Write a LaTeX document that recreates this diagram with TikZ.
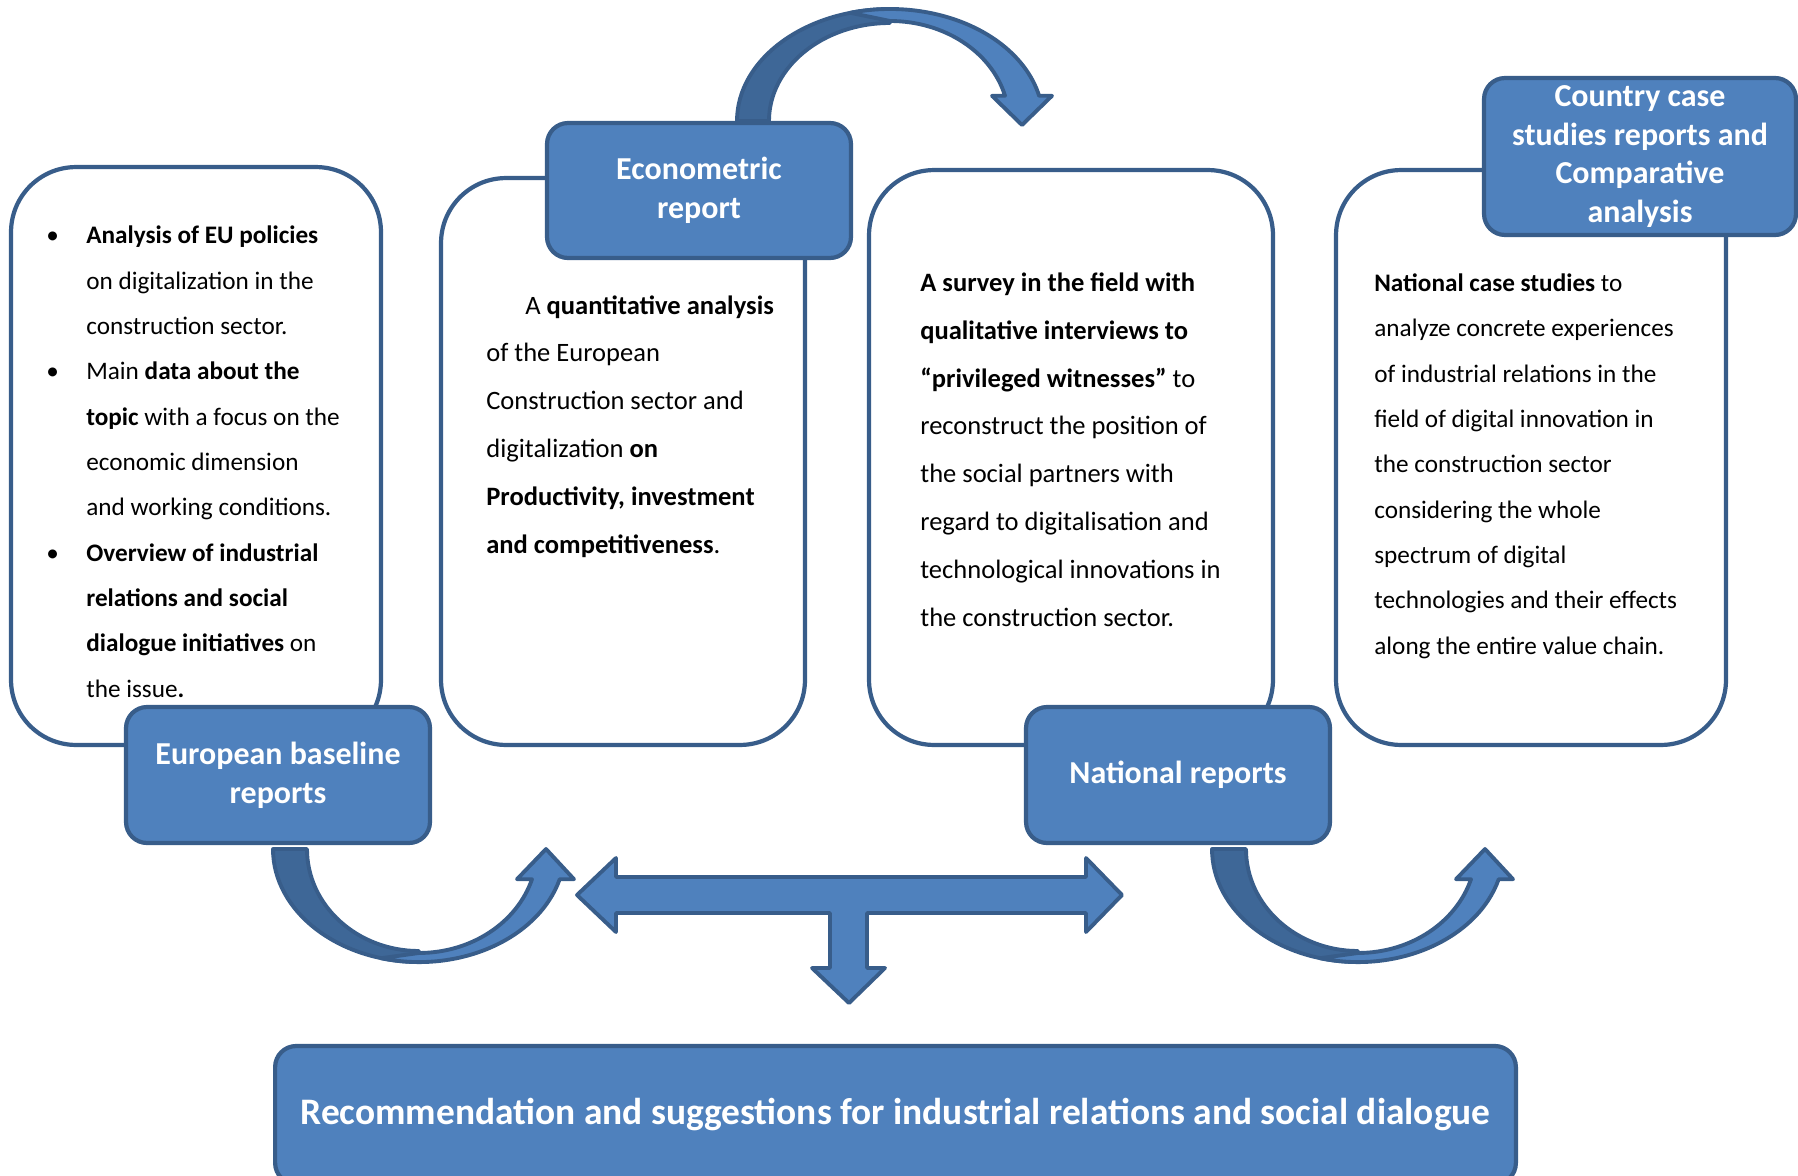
\documentclass[tikz,border=0pt]{standalone}
\usepackage{fontspec}
\setmainfont{Carlito}
\usetikzlibrary{positioning}
\definecolor{boxfill}{HTML}{4F81BD}
\definecolor{boxline}{HTML}{385D8A}
\definecolor{bandback}{HTML}{3E6797}
\tikzset{
  txt_box/.style = {rectangle, draw=boxline, fill=white, line width=2.4pt,
    rounded corners=1.3cm, inner sep=0pt},
  lbl_box/.style = {rectangle, draw=boxline, fill=boxfill, line width=2.4pt,
    rounded corners=0.42cm, inner sep=0pt, align=center, text=white,
    font=\fontsize{18.2}{22}\selectfont\bfseries},% blue title boxes
  body_txt/.style = {anchor=base west, align=left, inner sep=0pt,
    font=\fontsize{14.35}{25.8}\selectfont},% anchored on last line
  blk_arrow/.style = {draw=boxline, fill=boxfill, line width=2.2pt,
    line join=round},
  blk_back/.style = {blk_arrow, fill=bandback}% back side of curved arrows
}

\begin{document}
\begin{tikzpicture}[x=0.02cm, y=-0.02cm]
\useasboundingbox (0,0) rectangle (1798,1176);
% white boxes
\node (boxA) [txt_box, minimum width=7.4cm, minimum height=11.56cm] at (196,456) {};
\node (boxB) [txt_box, minimum width=7.28cm, minimum height=11.34cm] at (623,461.5) {};
\node (boxC) [txt_box, minimum width=8.08cm, minimum height=11.5cm] at (1071,457.5) {};
\node (boxD) [txt_box, minimum width=7.8cm, minimum height=11.5cm] at (1531,457.5) {};
%
% curved arrow on top
\filldraw[blk_back] (737,121) arc[start angle=180, end angle=270, x radius=153, y radius=112]
    -- (890,23) arc[start angle=270, end angle=180, x radius=121, y radius=98] -- cycle;
\filldraw[blk_arrow] (850.4,12.8) arc[start angle=255, end angle=347, x radius=153, y radius=112]
    -- (1052,95.8) -- (1022,125) -- (992,95.8) -- (1005,95.8)
    arc[start angle=345.4, end angle=270, x radius=118.8, y radius=100] -- cycle;
%
% curved arrows below
\foreach \sx in {0,939}{
\begin{scope}[shift={(\sx,0)}]
\filldraw[blk_back] (273,849) arc[start angle=180, end angle=90, x radius=146, y radius=113]
    -- (419,951) arc[start angle=90, end angle=180, x radius=112, y radius=102] -- cycle;
\filldraw[blk_arrow] (381.2,958.2) arc[start angle=105, end angle=15.5, x radius=146, y radius=113]
    -- (574,879.2) -- (546,849) -- (517,879.2) -- (532,879.2)
    arc[start angle=16.9, end angle=90, x radius=118.1, y radius=104] -- cycle;
\end{scope}
}
%
% T arrow
\filldraw[blk_arrow] (577,895) -- (616,858) -- (616,877) -- (1086,877) -- (1086,858)
    -- (1122,895) -- (1086,932) -- (1086,913) -- (867,913) -- (867,968) -- (885,968)
    -- (849,1003) -- (812,968) -- (830,968) -- (830,913) -- (616,913) -- (616,932) -- cycle;
%
% blue boxes
\node (econ) [lbl_box, minimum width=6.08cm, minimum height=2.7cm] at (699,190.5) {Econometric\\report};
\node (eub) [lbl_box, minimum width=6.08cm, minimum height=2.72cm] at (278,775) {European baseline\\reports};
\node (natrep) [lbl_box, minimum width=6.08cm, minimum height=2.72cm] at (1178,775) {National reports};
\node (country) [lbl_box, minimum width=6.24cm, minimum height=3.14cm] at (1640,156.5) {Country case\\studies reports and\\Comparative\\analysis};
\node (reco) [lbl_box, minimum width=24.82cm, minimum height=2.76cm,
    font=\fontsize{21.3}{26}\selectfont\bfseries] at (895.5,1115)
    {Recommendation and suggestions for industrial relations and social dialogue};
%
% texts
\node (txtA) [body_txt] at (86,697) {%
\llap{\textbullet\hspace{0.55cm}}\textbf{Analysis of EU policies}\\
on digitalization in the\\
construction sector.\\
\llap{\textbullet\hspace{0.55cm}}Main \textbf{data about the}\\
\textbf{topic} with a focus on the\\
economic dimension\\
and working conditions.\\
\llap{\textbullet\hspace{0.55cm}}\textbf{Overview of industrial}\\
\textbf{relations and social}\\
\textbf{dialogue initiatives} on\\
the issue\textbf{.}};
\node (txtB) [body_txt, font=\fontsize{15.1}{27.2}\selectfont] at (486,553) {%
\hspace*{0.78cm}A \textbf{quantitative analysis}\\
of the European\\
Construction sector and\\
digitalization \textbf{on}\\
\textbf{Productivity, investment}\\
\textbf{and competitiveness}.};
\node (txtC) [body_txt, font=\fontsize{15.1}{27.2}\selectfont] at (920,626) {%
\textbf{A survey in the field with}\\
\textbf{qualitative interviews to}\\
\textbf{“privileged witnesses”} to\\
reconstruct the position of\\
the social partners with\\
regard to digitalisation and\\
technological innovations in\\
the construction sector.};
\node (txtD) [body_txt] at (1374,654) {%
\textbf{National case studies} to\\
analyze concrete experiences\\
of industrial relations in the\\
field of digital innovation in\\
the construction sector\\
considering the whole\\
spectrum of digital\\
technologies and their effects\\
along the entire value chain.};
\end{tikzpicture}
\end{document}
